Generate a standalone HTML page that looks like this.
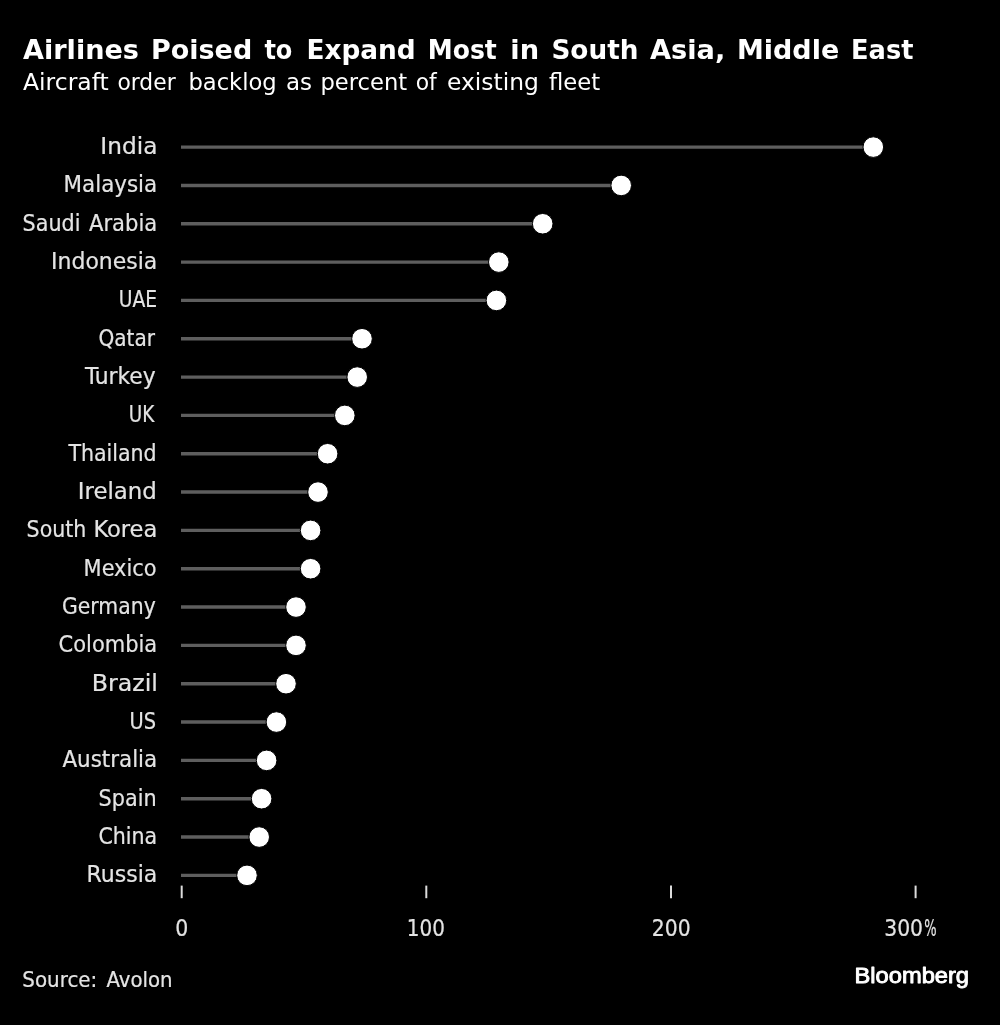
<!DOCTYPE html>
<html lang="en">
<head>
<meta charset="utf-8">
<title>Airlines Poised to Expand Most in South Asia, Middle East</title>
<style>
html,body{margin:0;padding:0;background:#000;}
body{width:1000px;height:1025px;overflow:hidden;position:relative;font-family:"Liberation Sans","DejaVu Sans",sans-serif;}
svg{position:absolute;left:0;top:0;display:block}
text{white-space:pre}
.title{font-family:"DejaVu Sans","Liberation Sans",sans-serif;font-weight:bold;font-size:26.8px;fill:#fff}
.sub{font-family:"DejaVu Sans","Liberation Sans",sans-serif;font-size:23.3px;fill:#fff}
.lab{font-family:"DejaVu Sans","Liberation Sans",sans-serif;font-stretch:condensed;font-size:23.4px;fill:#e4e4e4;stroke:#e4e4e4;stroke-width:.2px}
.ax{font-family:"DejaVu Sans","Liberation Sans",sans-serif;font-stretch:condensed;font-size:23.6px;fill:#e4e4e4;stroke:#e4e4e4;stroke-width:.2px}
.src{font-family:"DejaVu Sans","Liberation Sans",sans-serif;font-stretch:condensed;font-size:21.0px;fill:#e4e4e4;stroke:#e4e4e4;stroke-width:.2px}
.logo{font-family:"Liberation Sans","DejaVu Sans",sans-serif;font-size:22.2px;fill:#fff;stroke:#fff;stroke-width:.9px;stroke-linejoin:round}
</style>
</head>
<body>
<svg width="1000" height="1025" viewBox="0 0 1000 1025">
<rect width="1000" height="1025" fill="#000"/>
<text class="title" y="59.3"><tspan x="23.00" textLength="115.96" lengthAdjust="spacingAndGlyphs">Airlines</tspan> <tspan x="150.99" textLength="101.21" lengthAdjust="spacingAndGlyphs">Poised</tspan> <tspan x="264.40" textLength="27.97" lengthAdjust="spacingAndGlyphs">to</tspan> <tspan x="306.43" textLength="109.31" lengthAdjust="spacingAndGlyphs">Expand</tspan> <tspan x="427.73" textLength="69.09" lengthAdjust="spacingAndGlyphs">Most</tspan> <tspan x="510.37" textLength="28.75" lengthAdjust="spacingAndGlyphs">in</tspan> <tspan x="551.42" textLength="87.02" lengthAdjust="spacingAndGlyphs">South</tspan> <tspan x="650.00" textLength="75.21" lengthAdjust="spacingAndGlyphs">Asia,</tspan> <tspan x="736.99" textLength="102.19" lengthAdjust="spacingAndGlyphs">Middle</tspan> <tspan x="851.09" textLength="62.33" lengthAdjust="spacingAndGlyphs">East</tspan></text>
<text class="sub" y="90.1"><tspan x="23.00" textLength="85.74" lengthAdjust="spacingAndGlyphs">Aircraft</tspan> <tspan x="117.46" textLength="58.14" lengthAdjust="spacingAndGlyphs">order</tspan> <tspan x="188.46" textLength="88.28" lengthAdjust="spacingAndGlyphs">backlog</tspan> <tspan x="286.01" textLength="26.11" lengthAdjust="spacingAndGlyphs">as</tspan> <tspan x="320.46" textLength="86.67" lengthAdjust="spacingAndGlyphs">percent</tspan> <tspan x="415.66" textLength="21.09" lengthAdjust="spacingAndGlyphs">of</tspan> <tspan x="447.00" textLength="91.80" lengthAdjust="spacingAndGlyphs">existing</tspan> <tspan x="549.00" textLength="51.13" lengthAdjust="spacingAndGlyphs">fleet</tspan></text>
<g stroke="#5e5e5e" stroke-width="3.4">
<line x1="181.0" y1="147.10" x2="873.3" y2="147.10"/>
<line x1="181.0" y1="185.43" x2="621.2" y2="185.43"/>
<line x1="181.0" y1="223.76" x2="542.7" y2="223.76"/>
<line x1="181.0" y1="262.09" x2="498.8" y2="262.09"/>
<line x1="181.0" y1="300.42" x2="496.4" y2="300.42"/>
<line x1="181.0" y1="338.75" x2="362.0" y2="338.75"/>
<line x1="181.0" y1="377.08" x2="357.2" y2="377.08"/>
<line x1="181.0" y1="415.41" x2="344.8" y2="415.41"/>
<line x1="181.0" y1="453.74" x2="327.6" y2="453.74"/>
<line x1="181.0" y1="492.07" x2="318.0" y2="492.07"/>
<line x1="181.0" y1="530.40" x2="310.6" y2="530.40"/>
<line x1="181.0" y1="568.73" x2="310.6" y2="568.73"/>
<line x1="181.0" y1="607.06" x2="296.0" y2="607.06"/>
<line x1="181.0" y1="645.39" x2="296.0" y2="645.39"/>
<line x1="181.0" y1="683.72" x2="286.0" y2="683.72"/>
<line x1="181.0" y1="722.05" x2="276.4" y2="722.05"/>
<line x1="181.0" y1="760.38" x2="266.6" y2="760.38"/>
<line x1="181.0" y1="798.71" x2="261.6" y2="798.71"/>
<line x1="181.0" y1="837.04" x2="259.2" y2="837.04"/>
<line x1="181.0" y1="875.37" x2="247.0" y2="875.37"/>
</g>
<g fill="#fff" stroke="#000" stroke-width="1">
<circle cx="873.3" cy="147.10" r="10.3"/>
<circle cx="621.2" cy="185.43" r="10.3"/>
<circle cx="542.7" cy="223.76" r="10.3"/>
<circle cx="498.8" cy="262.09" r="10.3"/>
<circle cx="496.4" cy="300.42" r="10.3"/>
<circle cx="362.0" cy="338.75" r="10.3"/>
<circle cx="357.2" cy="377.08" r="10.3"/>
<circle cx="344.8" cy="415.41" r="10.3"/>
<circle cx="327.6" cy="453.74" r="10.3"/>
<circle cx="318.0" cy="492.07" r="10.3"/>
<circle cx="310.6" cy="530.40" r="10.3"/>
<circle cx="310.6" cy="568.73" r="10.3"/>
<circle cx="296.0" cy="607.06" r="10.3"/>
<circle cx="296.0" cy="645.39" r="10.3"/>
<circle cx="286.0" cy="683.72" r="10.3"/>
<circle cx="276.4" cy="722.05" r="10.3"/>
<circle cx="266.6" cy="760.38" r="10.3"/>
<circle cx="261.6" cy="798.71" r="10.3"/>
<circle cx="259.2" cy="837.04" r="10.3"/>
<circle cx="247.0" cy="875.37" r="10.3"/>
</g>
<g class="lab">
<text x="100.39" y="154.00" textLength="57.00" lengthAdjust="spacingAndGlyphs">India</text>
<text x="63.56" y="192.33" textLength="93.67" lengthAdjust="spacingAndGlyphs">Malaysia</text>
<text y="230.66"><tspan x="22.62" textLength="57.80" lengthAdjust="spacingAndGlyphs">Saudi</tspan> <tspan x="89.00" textLength="68.20" lengthAdjust="spacingAndGlyphs">Arabia</tspan></text>
<text x="51.11" y="268.99" textLength="106.16" lengthAdjust="spacingAndGlyphs">Indonesia</text>
<text x="118.71" y="307.32" textLength="38.34" lengthAdjust="spacingAndGlyphs">UAE</text>
<text x="98.45" y="345.65" textLength="56.52" lengthAdjust="spacingAndGlyphs">Qatar</text>
<text x="85.04" y="383.98" textLength="70.73" lengthAdjust="spacingAndGlyphs">Turkey</text>
<text x="128.73" y="422.31" textLength="25.52" lengthAdjust="spacingAndGlyphs">UK</text>
<text x="68.38" y="460.64" textLength="88.25" lengthAdjust="spacingAndGlyphs">Thailand</text>
<text x="77.83" y="498.97" textLength="78.95" lengthAdjust="spacingAndGlyphs">Ireland</text>
<text y="537.30"><tspan x="26.62" textLength="59.68" lengthAdjust="spacingAndGlyphs">South</tspan> <tspan x="93.45" textLength="63.88" lengthAdjust="spacingAndGlyphs">Korea</tspan></text>
<text x="83.61" y="575.63" textLength="72.95" lengthAdjust="spacingAndGlyphs">Mexico</text>
<text x="62.03" y="613.96" textLength="93.70" lengthAdjust="spacingAndGlyphs">Germany</text>
<text x="58.60" y="652.29" textLength="98.59" lengthAdjust="spacingAndGlyphs">Colombia</text>
<text x="91.75" y="690.62" textLength="66.03" lengthAdjust="spacingAndGlyphs">Brazil</text>
<text x="129.48" y="728.95" textLength="26.56" lengthAdjust="spacingAndGlyphs">US</text>
<text x="62.40" y="767.28" textLength="94.83" lengthAdjust="spacingAndGlyphs">Australia</text>
<text x="98.61" y="805.61" textLength="58.01" lengthAdjust="spacingAndGlyphs">Spain</text>
<text x="98.42" y="843.94" textLength="58.73" lengthAdjust="spacingAndGlyphs">China</text>
<text x="86.51" y="882.27" textLength="70.78" lengthAdjust="spacingAndGlyphs">Russia</text>
</g>
<g stroke="#dcdcdc" stroke-width="2">
<line x1="181.7" y1="885.6" x2="181.7" y2="898.2"/>
<line x1="426.3" y1="885.6" x2="426.3" y2="898.2"/>
<line x1="671.0" y1="885.6" x2="671.0" y2="898.2"/>
<line x1="915.6" y1="885.6" x2="915.6" y2="898.2"/>
</g>
<g class="ax">
<text x="175.23" y="935.5" textLength="13.05" lengthAdjust="spacingAndGlyphs">0</text>
<text x="406.72" y="935.5" textLength="38.16" lengthAdjust="spacingAndGlyphs">100</text>
<text x="651.84" y="935.5" textLength="38.84" lengthAdjust="spacingAndGlyphs">200</text>
<text y="935.5"><tspan x="884.24" textLength="38.84" lengthAdjust="spacingAndGlyphs">300</tspan><tspan x="924.19" textLength="12.32" lengthAdjust="spacingAndGlyphs">%</tspan></text>
</g>
<text class="src" y="987"><tspan x="22.35" textLength="74.89" lengthAdjust="spacingAndGlyphs">Source:</tspan> <tspan x="106.50" textLength="66.02" lengthAdjust="spacingAndGlyphs">Avolon</tspan></text>
<text class="logo" y="982.6"><tspan x="854.48" textLength="114.60" lengthAdjust="spacingAndGlyphs">Bloomberg</tspan></text>
</svg>
</body>
</html>
